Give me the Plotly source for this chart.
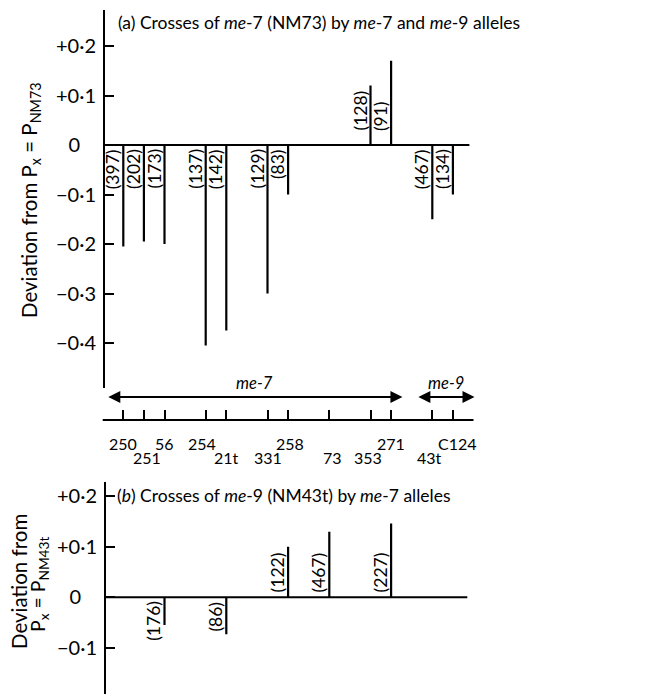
import plotly.graph_objects as go

# ---------------- data ----------------
# genetic map order (x position of each allele on the map)
map_alleles = ["250", "251", "56", "254", "21t", "331", "258", "73", "353", "271", "43t", "C124"]
map_pos = [1, 2, 3, 5, 6, 8, 9, 11, 13, 14, 16, 17]
upper_row = ["250", "56", "254", "258", "271", "C124"]

# (a) crosses of me-7 (NM73)
a_alleles = ["250", "251", "56", "254", "21t", "331", "258", "353", "271", "43t", "C124"]
a_dev = [-0.205, -0.195, -0.2, -0.405, -0.375, -0.3, -0.1, 0.12, 0.17, -0.15, -0.1]
a_n = [397, 202, 173, 137, 142, 129, 83, 128, 91, 467, 134]

# (b) crosses of me-9 (NM43t)
b_alleles = ["56", "21t", "258", "73", "271"]
b_dev = [-0.055, -0.073, 0.1, 0.13, 0.146]
b_n = [176, 86, 122, 467, 227]

a_ticks = [0.2, 0.1, 0, -0.1, -0.2, -0.3, -0.4]
a_ticktext = ["+0·2", "+0·1", "0\u2007\u2008", "\u22120·1", "\u22120·2", "\u22120·3", "\u22120·4"]
b_ticks = [0.2, 0.1, 0, -0.1]
b_ticktext = ["+0·2", "+0·1", "0\u2007\u2008", "\u22120·1"]

# ---------------- layout geometry ----------------
W, H = 649, 694
OFF = 8  # page body margin of the html page
FONT = "Lato"
pos_of = dict(zip(map_alleles, map_pos))
a_x = [pos_of[a] for a in a_alleles]
b_x = [pos_of[a] for a in b_alleles]

# small horizontal nudges of some map labels (pixels), as printed
label_nudge = {"251": 3, "254": -4, "258": 2, "73": 3, "353": -3, "43t": -3, "C124": 5}


def fx(px):
    return (px - OFF) / W


def fy(py):
    return 1 - (py - OFF) / H


px0, ppu = 102.7, 20.6          # x pixel of map position 0, pixels per unit
xr = [-0.3, 18.6]
xdom = [fx(px0 + ppu * xr[0]), fx(px0 + ppu * xr[1])]

# panel (a): axis from px 10 to 388, zero at 145, 495 px per unit
a_top, a_bot, a_zero, a_ppu = 10, 388, 145, 495
a_range = [(a_zero - a_bot) / a_ppu, (a_zero - a_top) / a_ppu]
# panel (b): axis from px 482 to bottom, zero at 597.3, 505 px per unit
b_top, b_bot, b_zero, b_ppu = 482, H + OFF, 597.3, 505
b_range = [(b_zero - b_bot) / b_ppu, (b_zero - b_top) / b_ppu]


def stems(xs, ys):
    sx, sy = [], []
    for x, y in zip(xs, ys):
        sx += [x, x, None]
        sy += [0, y, None]
    return sx, sy


fig = go.Figure()
sx, sy = stems(a_x, a_dev)
fig.add_trace(go.Scatter(x=sx, y=sy, mode="lines", line=dict(color="black", width=2.2),
                         xaxis="x", yaxis="y", showlegend=False, hoverinfo="skip"))
sx, sy = stems(b_x, b_dev)
fig.add_trace(go.Scatter(x=sx, y=sy, mode="lines", line=dict(color="black", width=2.2),
                         xaxis="x", yaxis="y2", showlegend=False, hoverinfo="skip"))

yax_common = dict(showline=True, linewidth=2, linecolor="black", ticks="inside", ticklen=9,
                  tickwidth=2, tickcolor="black", showgrid=False, zeroline=False, anchor="free",
                  tickfont=dict(family=FONT, size=20, color="black"), ticklabelstandoff=3)

fig.update_layout(
    width=W, height=H, margin=dict(l=0, r=0, t=0, b=0),
    paper_bgcolor="white", plot_bgcolor="rgba(0,0,0,0)",
    xaxis=dict(domain=xdom, range=xr, anchor="free", position=fy(420),
               tickvals=map_pos, ticks="inside", ticklen=10, tickwidth=2, tickcolor="black",
               showline=False, showticklabels=False, showgrid=False, zeroline=False),
    yaxis=dict(domain=[fy(a_bot), fy(a_top)], range=a_range, position=fx(104),
               tickvals=a_ticks, ticktext=a_ticktext, **yax_common),
    yaxis2=dict(domain=[max(0, fy(b_bot)), fy(b_top)], range=b_range, position=fx(105),
                tickvals=b_ticks, ticktext=b_ticktext, **yax_common),
)

shapes = [
    dict(type="line", xref="x", yref="y", x0=0.05, x1=17.8, y0=0, y1=0, line=dict(color="black", width=2)),
    dict(type="line", xref="x", yref="y2", x0=0.1, x1=17.7, y0=0, y1=0, line=dict(color="black", width=2)),
    dict(type="line", xref="x", yref="paper", x0=0, x1=18, y0=fy(420), y1=fy(420),
         line=dict(color="black", width=2)),
]
fig.update_layout(shapes=shapes)

ann = []
lab_font = dict(family=FONT, size=17.5, color="black")
for x, v, n in zip(a_x, a_dev, a_n):
    ann.append(dict(x=x, y=0, xref="x", yref="y", text=f"({n})", textangle=-90, showarrow=False,
                    xanchor="center", xshift=-11, yanchor="top" if v < 0 else "bottom",
                    yshift=-2 if v < 0 else 12, font=lab_font))
for x, v, n in zip(b_x, b_dev, b_n):
    ann.append(dict(x=x, y=0, xref="x", yref="y2", text=f"({n})", textangle=-90, showarrow=False,
                    xanchor="center", xshift=-11, yanchor="top" if v < 0 else "bottom",
                    yshift=-2 if v < 0 else 3, font=lab_font))

# map labels (staggered in two rows)
for a, p in zip(map_alleles, map_pos):
    ypx = 443 if a in upper_row else 457
    ann.append(dict(x=p, y=fy(ypx), xref="x", yref="paper", text=a, showarrow=False,
                    xanchor="center", yanchor="middle", xshift=label_nudge.get(a, 0),
                    font=dict(family=FONT, size=16, color="black")))

# gene extents (double arrows)
gene_font = dict(family=FONT, size=16.5, color="black", style="italic")
arrow_y = fy(397)
me7 = [p for a, p in zip(map_alleles, map_pos) if a not in ("43t", "C124")]
me9 = [p for a, p in zip(map_alleles, map_pos) if a in ("43t", "C124")]
for lo, hi, name in [(min(me7) - 0.8, max(me7) + 0.55, "me-7"), (min(me9) - 0.75, max(me9) + 1.05, "me-9")]:
    ann.append(dict(x=hi, y=arrow_y, xref="x", yref="paper", ax=lo, ay=0, axref="x", ayref="pixel",
                    text="", showarrow=True, arrowhead=2, startarrowhead=2, arrowside="end+start",
                    arrowsize=1.2, arrowwidth=2, arrowcolor="black", standoff=0, startstandoff=0))
    ann.append(dict(x=(lo + hi) / 2, y=fy(383), xref="x", yref="paper", text=f"<i>{name}</i>",
                    showarrow=False, xanchor="center", yanchor="middle", font=gene_font))

title_font = dict(family=FONT, size=17.5, color="black")
ann.append(dict(x=fx(116), y=fy(22), xref="paper", yref="paper", xanchor="left", yanchor="middle",
                text="(a) Crosses of <i>me</i>-7 (NM73) by <i>me</i>-7 and <i>me</i>-9 alleles",
                showarrow=False, font=title_font))
ann.append(dict(x=fx(115), y=fy(495), xref="paper", yref="paper", xanchor="left", yanchor="middle",
                text="(<i>b</i>) Crosses of <i>me</i>-9 (NM43t) by <i>me</i>-7 alleles",
                showarrow=False, font=title_font))

ytitle_font = dict(family=FONT, size=20.5, color="black")
ann.append(dict(x=fx(31), y=fy(200), xref="paper", yref="paper", xanchor="center", yanchor="middle",
                text="Deviation from P<sub>x</sub> = P<sub>NM73</sub>", textangle=-90,
                showarrow=False, font=ytitle_font))
ann.append(dict(x=fx(19), y=fy(582), xref="paper", yref="paper", xanchor="center", yanchor="middle",
                text="Deviation from", textangle=-90, showarrow=False, font=ytitle_font))
ann.append(dict(x=fx(39), y=fy(585), xref="paper", yref="paper", xanchor="center", yanchor="middle",
                text="P<sub>x</sub> = P<sub>NM43t</sub>", textangle=-90, showarrow=False,
                font=dict(family=FONT, size=19.5, color="black")))

fig.update_layout(annotations=ann)
fig.write_html("out.html")
